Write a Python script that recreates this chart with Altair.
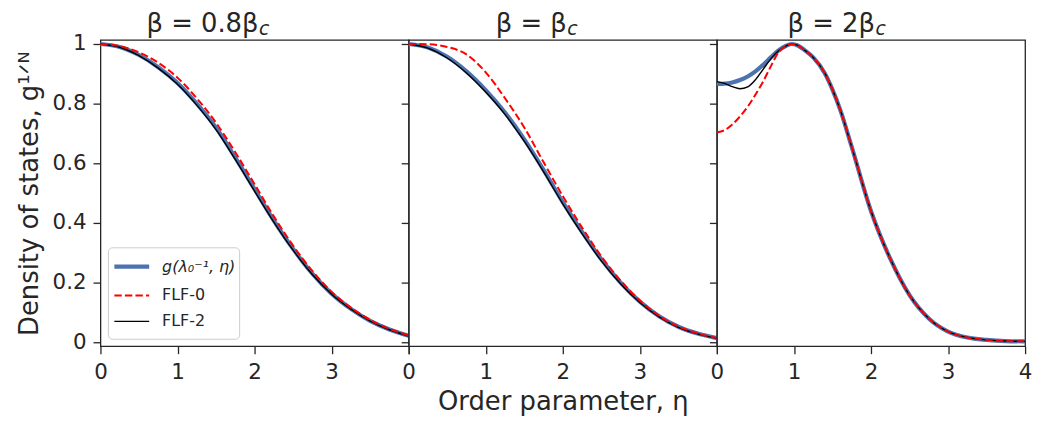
import altair as alt
import pandas as pd

FONT = "DejaVu Sans"
TXT = "#262626"
BLUE = "#4c72b0"
RED = "#ff0000"
BLACK = "#000000"

# ---------------- data ----------------
eta_a = [0.0, 0.25, 0.5, 0.75, 1.0, 1.25, 1.5, 1.75, 2.0, 2.25, 2.5, 2.75, 3.0, 3.25, 3.5, 3.75, 4.0]
g_a = [1.0, 0.99, 0.963, 0.922, 0.869, 0.80, 0.719, 0.619, 0.513, 0.408, 0.313, 0.23, 0.163, 0.112, 0.072, 0.043, 0.022]
flf0_a = [1.0, 0.993, 0.972, 0.937, 0.887, 0.818, 0.736, 0.637, 0.53, 0.422, 0.324, 0.239, 0.169, 0.116, 0.075, 0.045, 0.023]
flf2_a = [1.0, 0.989, 0.961, 0.919, 0.865, 0.795, 0.713, 0.613, 0.507, 0.403, 0.309, 0.227, 0.161, 0.111, 0.071, 0.042, 0.021]

eta_b = [0.0, 0.25, 0.5, 0.75, 1.0, 1.25, 1.5, 1.75, 2.0, 2.25, 2.5, 2.75, 3.0, 3.25, 3.5, 3.75, 4.0]
g_b = [1.0, 0.988, 0.957, 0.908, 0.845, 0.77, 0.68, 0.578, 0.47, 0.37, 0.278, 0.20, 0.136, 0.087, 0.052, 0.029, 0.014]
flf0_b = [1.0, 0.999, 0.99, 0.965, 0.905, 0.818, 0.72, 0.604, 0.49, 0.385, 0.288, 0.207, 0.14, 0.089, 0.053, 0.03, 0.014]
flf2_b = [1.0, 0.986, 0.953, 0.903, 0.839, 0.764, 0.674, 0.572, 0.464, 0.364, 0.273, 0.196, 0.133, 0.085, 0.05, 0.028, 0.013]

eta_c = [0.0, 0.1, 0.2, 0.3, 0.4, 0.5, 0.6, 0.7, 0.8, 0.9, 0.97, 1.05, 1.15, 1.25, 1.4, 1.5, 1.6, 1.75,
         2.0, 2.25, 2.5, 2.75, 3.0, 3.25, 3.5, 3.75, 4.0]
g_c = [0.866, 0.867, 0.871, 0.879, 0.891, 0.908, 0.93, 0.955, 0.978, 0.994, 1.0, 0.995, 0.977, 0.955, 0.902,
       0.847, 0.78, 0.655, 0.44, 0.28, 0.158, 0.08, 0.036, 0.016, 0.008, 0.004, 0.003]
flf0_c = [0.703, 0.711, 0.73, 0.757, 0.79, 0.83, 0.874, 0.925, 0.972, 0.993, 1.0, 0.995, 0.977, 0.955, 0.902,
          0.847, 0.78, 0.655, 0.44, 0.28, 0.158, 0.08, 0.036, 0.016, 0.008, 0.004, 0.003]
flf2_c = [0.874, 0.868, 0.857, 0.85, 0.856, 0.88, 0.915, 0.95, 0.977, 0.994, 1.0, 0.995, 0.977, 0.955, 0.902,
          0.847, 0.78, 0.655, 0.44, 0.28, 0.158, 0.08, 0.036, 0.016, 0.008, 0.004, 0.003]

panel_titles = ["β = 0.8β", "β = β", "β = 2β"]
title_sub = "c"
series_names = ["g(λ₀⁻¹, η)", "FLF-0", "FLF-2"]
x_ticks = [0, 1, 2, 3, 4]
y_ticks = [0, 0.2, 0.4, 0.6, 0.8, 1.0]
x_title = "Order parameter, η"
y_title = "Density of states, g¹ᐟᴺ"

W, H = 310, 308
XDOM = [0, 4]
YDOM = [-0.0133, 1.0133]


def x_axis(title, hide_last):
    kw = dict(values=x_ticks, format="d", grid=False, domain=False, tickSize=7.5, tickWidth=1.3,
              tickColor=TXT, labelFontSize=21.5, labelColor=TXT, labelFont=FONT, labelPadding=8,
              labelFlush=False, labelOverlap=False, titleFontSize=26, titleFont=FONT,
              titleFontWeight="normal", titleColor=TXT, titlePadding=6)
    if hide_last:
        kw["labelExpr"] = "datum.value == 4 ? '' : datum.label"
    kw["title"] = title if title else ""
    return alt.Axis(**kw)


def y_axis(first):
    kw = dict(values=y_ticks, grid=False, domain=False, tickSize=7.5, tickWidth=1.3, tickColor=TXT)
    if first:
        kw.update(labelExpr="datum.value == 0 ? '0' : datum.value == 1 ? '1' : format(datum.value, '.1f')",
                  labelFontSize=21.5, labelColor=TXT, labelFont=FONT, labelPadding=7, title=y_title,
                  titleFontSize=26, titleFont=FONT, titleFontWeight="normal", titleColor=TXT,
                  titlePadding=10)
    else:
        kw.update(labels=False, title="")
    return alt.Axis(**kw)


def line(eta, vals, color, width, dash=None, xax=alt.Undefined, yax=alt.Undefined):
    df = pd.DataFrame({"eta": eta, "v": vals})
    mk = dict(color=color, strokeWidth=width, interpolate="monotone")
    if dash:
        mk["strokeDash"] = dash
    return alt.Chart(df).mark_line(**mk).encode(
        x=alt.X("eta:Q", scale=alt.Scale(domain=XDOM, nice=False, zero=False), axis=xax),
        y=alt.Y("v:Q", scale=alt.Scale(domain=YDOM, nice=False, zero=False), axis=yax),
    )


def title_layers(main):
    cx = W / 2 + 4
    t1 = alt.Chart(pd.DataFrame({"t": [main]})).mark_text(
        align="right", baseline="alphabetic", fontSize=26, font=FONT, color=TXT
    ).encode(text="t:N", x=alt.value(cx), y=alt.value(-8.3))
    t2 = alt.Chart(pd.DataFrame({"t": [title_sub]})).mark_text(
        align="left", baseline="alphabetic", fontSize=19, font=FONT, fontStyle="italic", color=TXT
    ).encode(text="t:N", x=alt.value(cx + 0.5), y=alt.value(-5))
    return [t1, t2]


def legend_layers():
    box = alt.Chart(pd.DataFrame({"k": [0]})).mark_rect(
        fill="white", stroke="#cccccc", strokeWidth=1, cornerRadius=4
    ).encode(x=alt.value(8), x2=alt.value(140), y=alt.value(209), y2=alt.value(301))
    rows = [(228, BLUE, 4.2, None, "italic"), (257, RED, 2.0, [7.4, 3.2], "normal"),
            (283, BLACK, 1.4, None, "normal")]
    out = [box]
    for name, (yy, col, wd, dash, style) in zip(series_names, rows):
        d = pd.DataFrame({"label": [name]})
        mk = dict(color=col, strokeWidth=wd)
        if dash:
            mk["strokeDash"] = dash
        out.append(alt.Chart(d).mark_rule(**mk).encode(
            x=alt.value(14), x2=alt.value(49), y=alt.value(yy)))
        out.append(alt.Chart(d).mark_text(
            align="left", baseline="middle", fontSize=16, font=FONT, fontStyle=style, color=TXT
        ).encode(text="label:N", x=alt.value(62), y=alt.value(yy)))
    return out


def panel(eta, g, f0, f2, title, first, xtitle, hide_last, legend):
    layers = [
        line(eta, g, BLUE, 4.2, xax=x_axis(xtitle, hide_last), yax=y_axis(first)),
        line(eta, f2, BLACK, 1.4),
        line(eta, f0, RED, 2.0, dash=[7.4, 3.2]),
    ]
    layers += title_layers(title)
    if legend:
        layers += legend_layers()
    return alt.layer(*layers).properties(width=W, height=H)


p1 = panel(eta_a, g_a, flf0_a, flf2_a, panel_titles[0], True, None, True, True)
p2 = panel(eta_b, g_b, flf0_b, flf2_b, panel_titles[1], False, x_title, True, False)
p3 = panel(eta_c, g_c, flf0_c, flf2_c, panel_titles[2], False, None, False, False)

chart = alt.hconcat(p1, p2, p3, spacing=0, bounds="flush").properties(
    padding={"left": 7, "top": 1, "right": 5, "bottom": 2}, background="white"
).configure_view(stroke=TXT, strokeWidth=1.3)

chart.save("out.html", embed_options={"renderer": "svg", "actions": False})
